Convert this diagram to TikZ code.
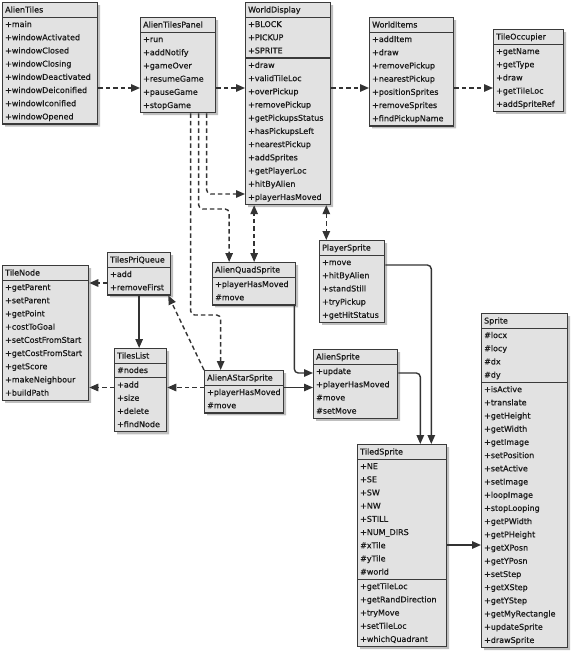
\documentclass[tikz,border=0pt]{standalone}
\usepackage{fontspec}
\newfontfamily\umlfamily{DejaVu Sans}[FakeBold=0.6]
\usetikzlibrary{shapes.multipart,shadows,arrows.meta}
\definecolor{boxfill}{HTML}{E2E2E2}
\definecolor{boxline}{HTML}{3A3A3A}
\definecolor{wire}{HTML}{333333}
\newcommand{\classfont}{\umlfamily\fontsize{8}{13.2}\selectfont}
\newcommand{\members}[1]{\noindent\begin{tabular}{@{}l@{}}#1\end{tabular}}
\tikzset{
  umlbox/.style={rectangle split, rectangle split parts=2, draw=boxline, fill=boxfill,
    line width=1.3pt, inner xsep=2.5pt, inner ysep=0pt, anchor=north west, align=left,
    font=\classfont, text=black!90,
    drop shadow={shadow xshift=2.5pt, shadow yshift=-2.5pt, fill=black!50}},
  dep/.style={draw=wire, line width=1.4pt, dash pattern=on 4.5pt off 3pt, rounded corners=4pt,
    -{Triangle[length=9pt,width=7.5pt]}},
  depboth/.style={dep, {Triangle[length=9pt,width=7.5pt]}-{Triangle[length=9pt,width=7.5pt]}},
  assoc/.style={draw=wire, line width=1.4pt, rounded corners=4pt, -{Triangle[length=9pt,width=7.5pt]}},
}
\begin{document}
\begin{tikzpicture}[x=1pt,y=-1pt]
\useasboundingbox (0,0) rectangle (575,653);
 \begin{scope}[every node/.style={umlbox}]
  \node[text width=90pt] (alientiles) at (2,2) {\members{AlienTiles}\nodepart{two}\members{+main\\+windowActivated\\+windowClosed\\+windowClosing\\+windowDeactivated\\+windowDeiconified\\+windowIconified\\+windowOpened}};
  \node[text width=70pt] (panel) at (140,17) {\members{AlienTilesPanel}\nodepart{two}\members{+run\\+addNotify\\+gameOver\\+resumeGame\\+pauseGame\\+stopGame}};
  \node[text width=80pt, rectangle split parts=3] (worlddisplay) at (245,2) {\members{WorldDisplay}\nodepart{two}\members{+BLOCK\\+PICKUP\\+SPRITE}\nodepart{three}\members{+draw\\+validTileLoc\\+overPickup\\+removePickup\\+getPickupsStatus\\+hasPickupsLeft\\+nearestPickup\\+addSprites\\+getPlayerLoc\\+hitByAlien\\+playerHasMoved}};
  \node[text width=79pt] (worlditems) at (369,17) {\members{WorldItems}\nodepart{two}\members{+addItem\\+draw\\+removePickup\\+nearestPickup\\+positionSprites\\+removeSprites\\+findPickupName}};
  \node[text width=65pt] (tileoccupier) at (493,29) {\members{TileOccupier}\nodepart{two}\members{+getName\\+getType\\+draw\\+getTileLoc\\+addSpriteRef}};
  \node[text width=58pt] (pq) at (107,252) {\members{TilesPriQueue}\nodepart{two}\members{+add\\+removeFirst}};
  \node[text width=81pt] (tilenode) at (2,265) {\members{TileNode}\nodepart{two}\members{+getParent\\+setParent\\+getPoint\\+costToGoal\\+setCostFromStart\\+getCostFromStart\\+getScore\\+makeNeighbour\\+buildPath}};
  \node[text width=47pt, rectangle split parts=3] (tileslist) at (114,348) {\members{TilesList}\nodepart{two}\members{\#nodes}\nodepart{three}\members{+add\\+size\\+delete\\+findNode}};
  \node[text width=78pt] (quad) at (212,262) {\members{AlienQuadSprite}\nodepart{two}\members{+playerHasMoved\\\#move}};
  \node[text width=74pt] (astar) at (204,370) {\members{AlienAStarSprite}\nodepart{two}\members{+playerHasMoved\\\#move}};
  \node[text width=60pt] (player) at (319,240) {\members{PlayerSprite}\nodepart{two}\members{+move\\+hitByAlien\\+standStill\\+tryPickup\\+getHitStatus}};
  \node[text width=79pt] (aliensprite) at (313,349) {\members{AlienSprite}\nodepart{two}\members{+update\\+playerHasMoved\\\#move\\\#setMove}};
  \node[text width=84pt, rectangle split parts=3] (tiledsprite) at (357,444) {\members{TiledSprite}\nodepart{two}\members{+NE\\+SE\\+SW\\+NW\\+STILL\\+NUM\_DIRS\\\#xTile\\\#yTile\\\#world}\nodepart{three}\members{+getTileLoc\\+getRandDirection\\+tryMove\\+setTileLoc\\+whichQuadrant}};
  \node[text width=81pt, rectangle split parts=3] (sprite) at (481,313) {\members{Sprite}\nodepart{two}\members{\#locx\\\#locy\\\#dx\\\#dy}\nodepart{three}\members{+isActive\\+translate\\+getHeight\\+getWidth\\+getImage\\+setPosition\\+setActive\\+setImage\\+loopImage\\+stopLooping\\+getPWidth\\+getPHeight\\+getXPosn\\+getYPosn\\+setStep\\+getXStep\\+getYStep\\+getMyRectangle\\+updateSprite\\+drawSprite}};
 \end{scope}
 \coordinate (toprow) at (0,88);
 \coordinate (pickrow) at (0,194);
 \coordinate (quadbend) at (0,209);
 \coordinate (starbend) at (0,315);
 \coordinate (queuerow) at (0,283);
 \coordinate (listrow) at (0,387.5);
 \coordinate (updaterow) at (0,373);
 \coordinate (playerrow) at (0,265);
 \coordinate (posnrow) at (0,545);
 \coordinate (quadin) at ([xshift=-25pt]quad.north);
 \coordinate (starin) at ([xshift=-23.5pt]astar.north);
 \coordinate (playerin) at ([xshift=-5pt]worlddisplay.south east);
 \coordinate (tilesin) at ([xshift=-27pt]tiledsprite.north east);
 \coordinate (tilesinb) at ([xshift=-16pt]tiledsprite.north east);
  \draw [dep] (alientiles.east |- toprow) -- (panel.west |- toprow);
  \draw [dep] (panel.east |- toprow) -- (worlddisplay.west |- toprow);
  \draw [dep] (worlddisplay.east |- toprow) -- (worlditems.west |- toprow);
  \draw [dep] (worlditems.east |- toprow) -- (tileoccupier.west |- toprow);
  \draw [dep] ([xshift=28.5pt]panel.south) |- (worlddisplay.west |- pickrow);
  \draw [dep] ([xshift=20.5pt]panel.south) |- (quadin |- quadbend) -- (quadin);
  \draw [dep] ([xshift=12.5pt]panel.south) |- (starin |- starbend) -- (starin);
  \draw [depboth] (quad.north) -- (quad.north |- worlddisplay.south);
  \draw [depboth] (playerin) -- (playerin |- player.north);
  \draw [dep] (pq.west |- queuerow) -- (tilenode.east |- queuerow);
  \draw [assoc] (pq.south) -- (pq.south |- tileslist.north);
  \draw [dep] (tileslist.west |- listrow) -- (tilenode.east |- listrow);
  \draw [dep] (astar.west |- listrow) -- (tileslist.east |- listrow);
  \draw [dep] (astar.north west) -- ([xshift=-3pt]pq.south east);
  \draw [assoc] ([xshift=-2pt]quad.south east) |- (aliensprite.west |- updaterow);
  \draw [assoc] (astar.east |- listrow) -- (aliensprite.west |- listrow);
  \draw [assoc] (player.east |- playerrow) -| (tilesinb);
  \draw [assoc] (aliensprite.east |- updaterow) -| (tilesin);
  \draw [assoc] (tiledsprite.east |- posnrow) -- (sprite.west |- posnrow);
\end{tikzpicture}
\end{document}
